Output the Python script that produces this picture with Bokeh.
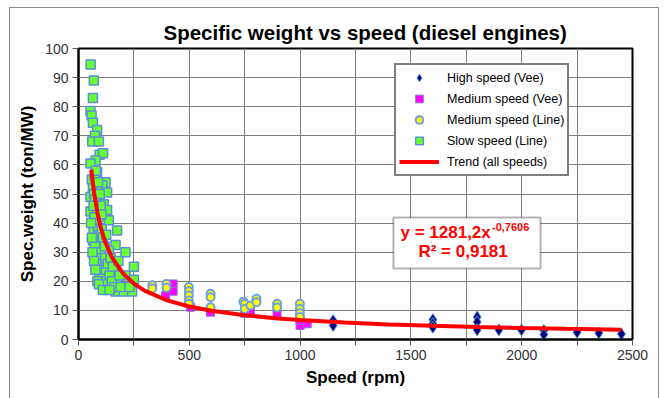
from bokeh.plotting import figure
from bokeh.models import Legend, LegendItem, Label, BoxAnnotation, FixedTicker, Range1d
from bokeh.embed import file_html
from bokeh.resources import INLINE

# ---------------- data ----------------
high_x = [1149, 1149, 1599, 1599, 1599, 1799, 1799, 1799, 1897, 1999, 2100, 2100, 2250, 2348, 2450]
high_y = [6.5, 4.8, 6.8, 5.4, 4.2, 7.7, 6.0, 3.3, 3.3, 3.3, 3.1, 1.7, 2.5, 2.2, 1.9]

medvee_x = [427, 427, 393, 505, 596, 776, 750, 896, 1000, 1032, 1000]
medvee_y = [19.1, 16.6, 15.1, 11.1, 9.4, 10.0, 9.0, 9.0, 4.8, 5.4, 6.5]

medline_x = [333, 333, 397, 397, 498, 498, 498, 498, 498, 596, 596, 596, 744, 750, 750,
             776, 803, 803, 896, 896, 999, 999, 999, 999]
medline_y = [18.6, 17.5, 19.1, 17.8, 18.0, 16.6, 15.1, 13.4, 12.3, 15.7, 14.5, 11.1, 13.0, 12.3, 10.5,
             11.7, 14.0, 12.8, 12.3, 11.0, 12.3, 10.5, 9.0, 7.7]

slow_x = [55, 69, 65, 54, 59, 65, 84, 74, 62, 92, 95, 111, 77, 54, 84, 122, 107, 129, 84, 54,
          114, 129, 54, 137, 174, 77, 92, 167, 137, 212, 69, 99, 250, 167, 129, 212, 174, 250, 167, 204,
          242, 129, 60, 65, 70, 75, 80, 85, 90, 62, 68, 72, 78, 88, 95, 100, 105, 110, 66, 74,
          82, 90, 98, 104, 112, 120, 80, 86, 94, 102, 108, 116, 124, 132, 140, 150, 145, 155, 160, 190,
          185, 230, 118, 125, 72, 78, 88, 96, 100, 104, 68, 60, 57, 63, 70, 76, 85, 92, 110, 140, 180]
slow_y = [94.5, 89.0, 83.0, 78.5, 77.0, 74.5, 72.0, 70.0, 68.0, 68.0, 63.5, 64.0, 61.5, 60.5, 57.5, 54.0, 53.0, 50.5, 52.0, 49.0,
          46.5, 44.5, 44.0, 41.0, 37.5, 36.5, 33.5, 32.5, 30.5, 30.0, 29.5, 26.0, 25.0, 23.5, 22.0, 22.0, 20.5, 20.5, 16.5, 16.5,
          16.5, 18.0, 55.0, 52.0, 50.0, 48.0, 46.0, 44.0, 42.0, 40.0, 38.0, 42.0, 40.0, 38.0, 36.0, 34.0, 38.0, 35.0, 34.0, 32.0,
          30.0, 28.0, 30.0, 28.0, 26.0, 28.0, 26.0, 24.0, 22.0, 24.0, 21.0, 20.0, 24.0, 26.0, 22.0, 20.0, 28.0, 25.0, 18.0, 18.0,
          22.0, 18.0, 32.0, 36.0, 56.0, 58.0, 54.0, 50.0, 46.0, 43.0, 46.0, 35.0, 40.0, 30.0, 27.0, 24.0, 20.0, 19.0, 17.0, 17.0, 27.0]

# Trend (power fit shown on chart): y = 1281.2 * x^-0.7606
trend_a = 1281.2
trend_b = -0.7606
trend_x = [58, 70, 85, 100, 120, 150, 200, 250, 300, 400, 500, 600, 750, 900, 1000,
           1200, 1400, 1600, 1800, 2000, 2200, 2450]
trend_y = [trend_a * x ** trend_b for x in trend_x]

x_ticks = list(range(0, 2501, 250))
x_tick_labels = {t: (str(t) if t % 500 == 0 else "") for t in x_ticks}
y_ticks = list(range(0, 101, 10))

FONT = "Liberation Sans"

p = figure(width=650, height=392, output_backend="svg", toolbar_location=None,
           x_range=Range1d(0, 2500), y_range=Range1d(0, 100),
           min_border_left=68, min_border_right=28, min_border_top=40, min_border_bottom=61,
           background_fill_color="white", border_fill_color="white")
p.styles = {"border": "1px solid #8c8c8c", "margin-left": "9px", "margin-top": "7px"}

p.title.text = "Specific weight vs speed (diesel engines)"
p.title.align = "left"
p.title.offset = 85
p.title.text_font = FONT
p.title.text_font_size = "20.5px"
p.title.text_font_style = "bold"
p.title.text_color = "black"

p.outline_line_color = "black"
p.outline_line_width = 2
p.outline_line_alpha = 1

for ax in (p.xaxis[0], p.yaxis[0]):
    ax.axis_line_color = "black"
    ax.axis_line_width = 2
    ax.major_tick_line_color = "#555555"
    ax.major_tick_in = 0
    ax.major_tick_out = 6
    ax.minor_tick_line_color = None
    ax.major_label_text_font = FONT
    ax.major_label_text_font_size = "14px"
    ax.major_label_text_color = "#333333"
    ax.axis_label_text_font = FONT
    ax.axis_label_text_font_size = "17px"
    ax.axis_label_text_font_style = "bold"
    ax.axis_label_text_color = "black"

p.xaxis[0].ticker = FixedTicker(ticks=x_ticks)
p.xaxis[0].major_label_overrides = x_tick_labels
p.xaxis[0].axis_label = "Speed (rpm)"
p.xaxis[0].major_label_standoff = 4
p.yaxis[0].ticker = FixedTicker(ticks=y_ticks)
p.yaxis[0].axis_label = "Spec.weight (ton/MW)"
p.yaxis[0].major_label_standoff = 4

p.xgrid.ticker = FixedTicker(ticks=x_ticks)
p.ygrid.ticker = FixedTicker(ticks=y_ticks)
for g in (p.xgrid[0], p.ygrid[0]):
    g.grid_line_color = "#7f7f7f"
    g.grid_line_width = 1
    g.grid_line_alpha = 1

r_high = p.scatter(high_x, high_y, marker="diamond", size=12, fill_color="#000080",
                   line_color="#5b9bd5", line_width=1)
r_mv = p.scatter(medvee_x, medvee_y, marker="square", size=8, fill_color="#ff00ff",
                 line_color="#8a6fd0", line_width=1)
r_ml = p.scatter(medline_x, medline_y, marker="circle", size=8, fill_color="#ffff00",
                 line_color="#6fa0dc", line_width=2)
r_slow = p.scatter(slow_x, slow_y, marker="square", size=9, fill_color="#66ff33",
                   line_color="#5b8fd6", line_width=1.5)
r_trend = p.line(trend_x, trend_y, line_color="#ff0000", line_width=4)

legend = Legend(items=[
    LegendItem(label="High speed (Vee)", renderers=[r_high]),
    LegendItem(label="Medium speed (Vee)", renderers=[r_mv]),
    LegendItem(label="Medium speed (Line)", renderers=[r_ml]),
    LegendItem(label="Slow speed (Line)", renderers=[r_slow]),
    LegendItem(label="Trend (all speeds)", renderers=[r_trend]),
], location=(316, 163))
legend.label_text_font = FONT
legend.label_text_font_size = "12.5px"
legend.label_text_color = "black"
legend.border_line_color = "black"
legend.border_line_width = 2
legend.background_fill_color = "white"
legend.background_fill_alpha = 1
legend.padding = 3
legend.spacing = 2
legend.margin = 0
legend.glyph_width = 40
legend.glyph_height = 19
legend.label_height = 19
legend.label_standoff = 8
p.add_layout(legend)

eq_box = BoxAnnotation(left=1421, right=2085, bottom=24.4, top=41.9,
                       fill_color="white", fill_alpha=1, line_color="black", line_width=2)
p.add_layout(eq_box)
p.add_layout(Label(x=1453, y=36.8, text="y = 1281,2x", text_color="#ff0000", text_font=FONT,
                   text_font_size="17px", text_font_style="bold", text_baseline="middle"))
p.add_layout(Label(x=1866, y=38.6, text="-0,7606", text_color="#ff0000", text_font=FONT,
                   text_font_size="11px", text_font_style="bold", text_baseline="middle"))
p.add_layout(Label(x=1534, y=30.2, text="R² = 0,9181", text_color="#ff0000", text_font=FONT,
                   text_font_size="17px", text_font_style="bold", text_baseline="middle"))

open("out.html", "w").write(file_html(p, INLINE))
